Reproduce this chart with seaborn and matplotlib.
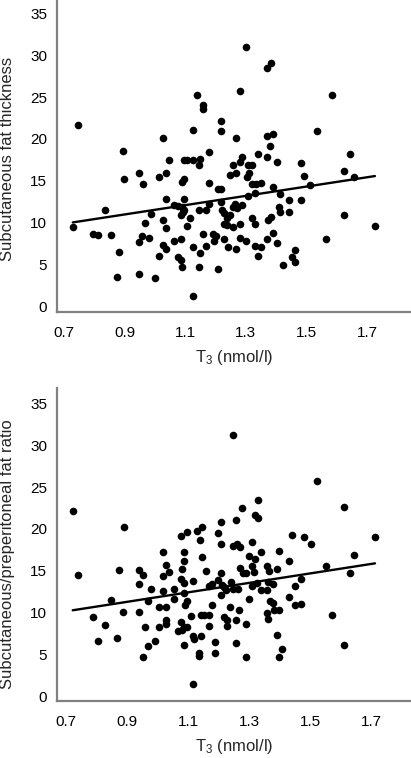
import numpy as np
import pandas as pd
import matplotlib
matplotlib.use("Agg")
import matplotlib.pyplot as plt
import seaborn as sns

# ---------------- data ----------------
t3_top = [0.745, 1.138, 1.158, 1.158, 1.217, 1.217, 1.127, 1.026, 0.896, 1.179,
          1.047, 1.097, 1.105, 1.127, 1.149, 1.147, 0.949, 1.036, 1.015, 0.899,
          1.097, 1.248, 1.301, 1.382, 1.371, 1.280, 1.584, 1.269, 1.370, 1.391,
          1.381, 1.534, 1.645, 1.340, 1.370, 1.402, 1.288, 1.281, 1.259, 1.308,
          1.319, 1.483, 1.624, 1.493, 1.269, 1.311, 1.303, 1.656, 0.962, 1.088,
          1.179, 1.209, 1.217, 1.036, 1.097, 1.064, 1.077, 1.088, 1.097, 1.092,
          1.086, 1.116, 1.147, 1.169, 1.179, 1.217, 1.220, 1.229, 1.237, 0.836,
          1.026, 0.967, 0.986, 0.729, 0.795, 0.813, 0.855, 0.959, 0.979, 0.949,
          1.036, 1.107, 1.158, 1.193, 1.202, 1.228, 1.229, 1.240, 1.086, 1.064,
          1.026, 1.036, 1.127, 1.167, 1.149, 1.015, 0.882, 1.077, 1.086, 1.088,
          1.147, 1.209, 0.874, 0.949, 1.000, 1.127, 1.319, 1.335, 1.350, 1.391,
          1.512, 1.330, 1.308, 1.413, 1.442, 1.482, 1.289, 1.264, 1.270, 1.259,
          1.248, 1.237, 1.259, 1.281, 1.319, 1.330, 1.374, 1.382, 1.410, 1.413,
          1.442, 1.624, 1.726, 1.563, 1.195, 1.268, 1.281, 1.300, 1.330, 1.350,
          1.341, 1.369, 1.391, 1.402, 1.463, 1.452, 1.463, 1.422]
fat_thickness = [21.7, 25.2, 23.6, 24.0, 22.1, 20.9, 21.1, 20.1, 18.6, 18.5,
                 17.5, 17.5, 17.5, 17.5, 17.6, 16.9, 16.0, 15.9, 15.5, 15.2,
                 15.2, 15.7, 30.9, 29.0, 28.5, 25.7, 25.2, 20.1, 20.4, 20.6,
                 19.2, 20.9, 18.2, 18.2, 17.8, 17.3, 17.8, 17.3, 16.9, 16.9,
                 16.9, 17.2, 16.2, 15.6, 15.9, 15.9, 15.5, 15.5, 14.6, 14.9,
                 14.8, 14.1, 14.1, 12.9, 12.9, 12.1, 12.0, 11.9, 11.6, 11.3,
                 10.95, 10.6, 11.6, 11.5, 12.3, 12.5, 11.5, 11.2, 10.6, 11.5,
                 10.4, 10.0, 11.1, 9.5, 8.65, 8.6, 8.6, 8.45, 8.25, 7.7,
                 9.45, 9.6, 8.65, 8.65, 8.4, 9.9, 8.05, 7.1, 8.05, 7.8,
                 7.4, 6.9, 7.1, 7.3, 6.4, 6.1, 6.6, 6.0, 5.6, 4.7,
                 4.8, 4.5, 3.6, 3.9, 3.5, 1.3, 14.7, 14.7, 14.8, 14.3,
                 14.5, 13.6, 13.2, 13.5, 12.7, 12.7, 12.1, 12.3, 11.75, 11.9,
                 11.0, 9.75, 9.5, 9.9, 10.6, 9.9, 10.4, 10.7, 11.9, 11.35,
                 11.35, 10.9, 9.6, 8.15, 7.9, 6.85, 8.2, 7.8, 7.3, 7.1,
                 6.1, 8.05, 8.85, 7.6, 6.8, 5.9, 5.3, 5.0]

t3_bottom = [0.722, 0.891, 1.207, 1.147, 1.129, 1.098, 1.077, 1.199, 1.139, 1.207,
             1.017, 1.088, 1.147, 1.027, 1.088, 1.039, 1.079, 1.159, 1.208, 0.875,
             0.940, 0.953, 0.738, 1.017, 1.077, 1.088, 1.117, 0.940, 1.178, 1.169,
             1.199, 1.210, 1.219, 0.978, 1.017, 1.055, 1.088, 1.207, 0.848, 0.970,
             1.055, 1.098, 1.090, 1.006, 1.027, 1.238, 0.888, 0.940, 1.110, 1.141,
             1.151, 1.169, 1.218, 1.227, 0.788, 1.027, 1.027, 1.077, 1.088, 0.829,
             0.959, 1.006, 1.068, 1.079, 1.098, 1.169, 0.866, 0.806, 1.117, 1.121,
             1.141, 0.993, 0.970, 1.088, 1.189, 1.137, 1.137, 1.189, 0.951, 1.117,
             1.249, 1.522, 1.611, 1.330, 1.278, 1.320, 1.331, 1.258, 1.442, 1.481,
             1.502, 1.713, 1.309, 1.249, 1.260, 1.270, 1.300, 1.320, 1.339, 1.399,
             1.430, 1.643, 1.552, 1.632, 1.270, 1.279, 1.290, 1.309, 1.317, 1.358,
             1.367, 1.391, 1.225, 1.240, 1.249, 1.265, 1.309, 1.327, 1.339, 1.358,
             1.361, 1.378, 1.452, 1.470, 1.301, 1.369, 1.380, 1.430, 1.452, 1.470,
             1.178, 1.268, 1.227, 1.257, 1.290, 1.358, 1.361, 1.382, 1.399, 1.573,
             1.257, 1.391, 1.409, 1.399, 1.291, 1.611]
fat_ratio = [22.1, 20.2, 20.8, 20.2, 19.8, 19.6, 19.2, 19.5, 18.65, 18.2,
             17.3, 17.3, 16.7, 15.7, 16.2, 14.85, 15.2, 15.0, 14.7, 15.1,
             15.1, 14.5, 14.5, 14.4, 14.0, 13.6, 13.85, 13.5, 13.5, 13.2,
             13.9, 13.3, 13.1, 12.8, 12.65, 12.8, 12.35, 12.1, 11.5, 11.45,
             11.6, 11.45, 10.95, 10.75, 10.75, 10.75, 10.15, 10.1, 9.65, 9.7,
             9.7, 9.7, 9.55, 8.45, 9.5, 9.15, 8.7, 8.95, 8.3, 8.55,
             8.3, 8.3, 7.8, 8.0, 8.3, 8.45, 7.05, 6.6, 7.2, 6.9,
             7.3, 6.6, 6.1, 6.15, 6.5, 5.2, 4.9, 5.2, 4.7, 1.5,
             31.2, 25.75, 22.6, 23.5, 22.5, 21.7, 21.3, 21.1, 19.3, 19.0,
             18.25, 19.0, 18.5, 18.0, 18.2, 17.9, 16.8, 16.4, 17.2, 17.4,
             16.2, 16.9, 15.6, 14.8, 15.3, 14.7, 14.7, 15.6, 14.9, 15.6,
             15.0, 15.2, 12.7, 13.7, 12.8, 12.8, 13.2, 13.6, 12.7, 12.7,
             13.7, 13.5, 13.25, 14.05, 11.6, 11.45, 11.2, 11.9, 10.9, 11.1,
             10.9, 10.3, 9.15, 9.15, 8.7, 10.0, 9.3, 10.3, 10.3, 9.7,
             6.4, 7.4, 5.7, 4.8, 4.7, 6.2]

x_ticks = [0.7, 0.9, 1.1, 1.3, 1.5, 1.7]
x_tick_labels = ["0.7", "0.9", "1.1", "1.3", "1.5", "1.7"]
y_ticks = [0, 5, 10, 15, 20, 25, 30, 35]
y_label_top = "Subcutaneous fat thickness"
y_label_bottom = "Subcutaneous/preperitoneal fat ratio"
x_label = r"T$_3$ (nmol/l)"

df_top = pd.DataFrame({"t3": t3_top, "value": fat_thickness})
df_bottom = pd.DataFrame({"t3": t3_bottom, "value": fat_ratio})

# ---------------- styling ----------------
sns.set_style("white")
plt.rcParams["font.family"] = ["Liberation Sans", "DejaVu Sans"]
plt.rcParams["mathtext.default"] = "regular"
plt.rcParams["font.size"] = 11

fig = plt.figure(figsize=(4.11, 7.58), dpi=100)
ax_top = fig.add_axes([57 / 411, 1 - 312 / 758, 354 / 411, 312 / 758])
ax_bot = fig.add_axes([57 / 411, 1 - 701 / 758, 354 / 411, 313 / 758])

spine_color = "#808080"

def style(ax, df, ylabel, xlim, ylim, ylabel_y):
    sns.regplot(data=df, x="t3", y="value", ax=ax, ci=None, color="black",
                scatter_kws={"s": 30, "linewidths": 0, "alpha": 1},
                line_kws={"linewidth": 1.7})
    ax.set_xlim(*xlim)
    ax.set_ylim(*ylim)
    ax.set_xticks(x_ticks)
    ax.set_xticklabels(x_tick_labels)
    ax.set_yticks(y_ticks)
    ax.tick_params(axis="both", length=0, labelsize=11, colors="black")
    ax.tick_params(axis="y", pad=7)
    ax.tick_params(axis="x", pad=10)
    for s in ["top", "right"]:
        ax.spines[s].set_visible(False)
    for s in ["left", "bottom"]:
        ax.spines[s].set_color(spine_color)
        ax.spines[s].set_linewidth(1.6)
    ax.set_xlabel(x_label, fontsize=12, labelpad=6)
    ax.set_ylabel(ylabel, fontsize=12)
    ax.yaxis.set_label_coords(-0.118, ylabel_y)
    ax.grid(False)

style(ax_top, df_top, y_label_top, (0.677, 1.845), (-0.6, 36.55), 0.49)
style(ax_bot, df_bottom, y_label_bottom, (0.6705, 1.831), (-0.5, 36.8), 0.468)

fig.savefig("out.png", dpi=100)
